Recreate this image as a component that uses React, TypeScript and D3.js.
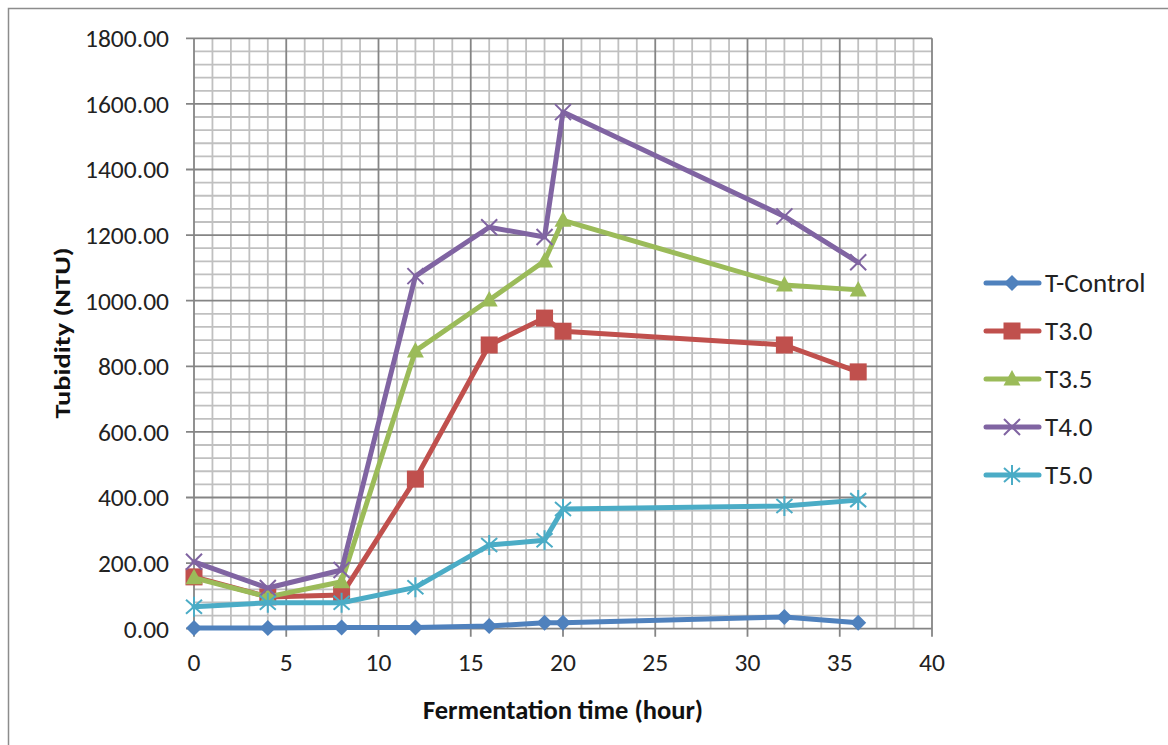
import { useEffect, useRef } from "react"
import * as d3 from "d3"

const hours = [0, 4, 8, 12, 16, 19, 20, 32, 36]
const seriesNames = ["T-Control", "T3.0", "T3.5", "T4.0", "T5.0"]
const tControl = [2, 2, 4, 4, 8, 18, 18, 36, 18]
const t30 = [158, 97, 103, 456, 865, 947, 907, 865, 783]
const t35 = [155, 97, 143, 847, 1002, 1121, 1245, 1048, 1033]
const t40 = [204, 124, 179, 1075, 1224, 1194, 1575, 1257, 1117]
const t50 = [67, 79, 79, 126, 255, 270, 365, 374, 392]
const colors = ["#4F81BD", "#C0504D", "#9BBB59", "#8064A2", "#4BACC6"]
const markers = ["diamond", "square", "triangle", "x", "star"]
const xTicks = [0, 5, 10, 15, 20, 25, 30, 35, 40]
const yTicks = [0, 200, 400, 600, 800, 1000, 1200, 1400, 1600, 1800]

const font = "Calibri, Carlito, Lato, 'Open Sans', sans-serif"

function drawMarker(g: d3.Selection<SVGGElement, unknown, null, undefined>, kind: string, x: number, y: number, color: string) {
  if (kind === "diamond") {
    g.append("path").attr("d", `M${x},${y - 8}L${x + 8},${y}L${x},${y + 8}L${x - 8},${y}Z`).attr("fill", color)
  } else if (kind === "square") {
    g.append("rect").attr("x", x - 8.5).attr("y", y - 8.5).attr("width", 17).attr("height", 17).attr("fill", color)
  } else if (kind === "triangle") {
    g.append("path").attr("d", `M${x},${y - 9}L${x + 8.5},${y + 6.5}L${x - 8.5},${y + 6.5}Z`).attr("fill", color)
  } else if (kind === "x") {
    g.append("path")
      .attr("d", `M${x - 8},${y - 8}L${x + 8},${y + 8}M${x - 8},${y + 8}L${x + 8},${y - 8}`)
      .attr("stroke", color).attr("stroke-width", 2)
  } else {
    g.append("path")
      .attr("d", `M${x - 8},${y - 7}L${x + 8},${y + 7}M${x - 8},${y + 7}L${x + 8},${y - 7}M${x},${y - 10}L${x},${y + 10}`)
      .attr("stroke", color).attr("stroke-width", 2)
  }
}

export default function App() {
  const svgRef = useRef<SVGSVGElement>(null)

  useEffect(() => {
    if (!svgRef.current) return
    const svg = d3.select(svgRef.current)
    svg.selectAll("*").remove()

    const x = d3.scaleLinear().domain([0, 40]).range([194, 932])
    const y = d3.scaleLinear().domain([0, 1800]).range([628.7, 38.3])

    // chart frame
    svg.append("rect").attr("x", 8.5).attr("y", 8.5).attr("width", 1170).attr("height", 760)
      .attr("fill", "white").attr("stroke", "#8c8c8c").attr("stroke-width", 1.5)

    const grid = svg.append("g")
    // minor grid
    for (let v = 1; v < 40; v++) {
      if (v % 5 === 0) continue
      grid.append("line").attr("x1", x(v)).attr("x2", x(v)).attr("y1", y(0)).attr("y2", y(1800))
        .attr("stroke", "#c0c0c0").attr("stroke-width", 1.8)
    }
    for (let v = 40; v < 1800; v += 40) {
      if (v % 200 === 0) continue
      grid.append("line").attr("x1", x(0)).attr("x2", x(40)).attr("y1", y(v)).attr("y2", y(v))
        .attr("stroke", "#c0c0c0").attr("stroke-width", 1.8)
    }
    // major grid
    xTicks.forEach((v) => {
      grid.append("line").attr("x1", x(v)).attr("x2", x(v)).attr("y1", y(0) + 8).attr("y2", y(1800))
        .attr("stroke", "#858585").attr("stroke-width", 1.8)
    })
    yTicks.forEach((v) => {
      grid.append("line").attr("x1", x(0) - 8).attr("x2", x(40)).attr("y1", y(v)).attr("y2", y(v))
        .attr("stroke", "#858585").attr("stroke-width", 1.8)
    })

    // tick labels
    svg.append("g").selectAll("text").data(yTicks).join("text")
      .attr("x", 169).attr("y", (d) => y(d)).attr("dy", "0.35em").attr("text-anchor", "end")
      .attr("font-family", font).attr("font-size", 25.5).attr("fill", "#222")
      .text((d) => d3.format(".2f")(d))
    svg.append("g").selectAll("text").data(xTicks).join("text")
      .attr("x", (d) => x(d)).attr("y", 662).attr("dy", "0.35em").attr("text-anchor", "middle")
      .attr("font-family", font).attr("font-size", 25.5).attr("fill", "#222")
      .text((d) => d)

    // axis titles
    svg.append("text").attr("transform", `translate(70,333) rotate(-90)`).attr("text-anchor", "middle")
      .attr("font-family", font).attr("font-size", 23).attr("font-weight", "bold").attr("fill", "#111")
      .attr("textLength", 171).attr("lengthAdjust", "spacingAndGlyphs")
      .text("Tubidity (NTU)")
    svg.append("text").attr("x", 563).attr("y", 719).attr("text-anchor", "middle")
      .attr("font-family", font).attr("font-size", 26.5).attr("font-weight", "bold").attr("fill", "#111")
      .text("Fermentation time (hour)")

    const series = [tControl, t30, t35, t40, t50]
    const line = d3.line<number>().x((_, i) => x(hours[i])).y((d) => y(d))
    series.forEach((vals, si) => {
      const g = svg.append("g")
      g.append("path").attr("d", line(vals)).attr("fill", "none").attr("stroke", colors[si])
        .attr("stroke-width", 5).attr("stroke-linejoin", "round").attr("stroke-linecap", "round")
      vals.forEach((v, i) => drawMarker(g, markers[si], x(hours[i]), y(v), colors[si]))
    })

    // legend
    const lg = svg.append("g")
    seriesNames.forEach((name, i) => {
      const ly = 283 + i * 48
      lg.append("line").attr("x1", 986).attr("x2", 1039).attr("y1", ly).attr("y2", ly)
        .attr("stroke", colors[i]).attr("stroke-width", 5).attr("stroke-linecap", "round")
      drawMarker(lg, markers[i], 1012, ly, colors[i])
      lg.append("text").attr("x", 1045).attr("y", ly).attr("dy", "0.35em")
        .attr("font-family", font).attr("font-size", 27).attr("fill", "#222").text(name)
    })
  }, [])

  return (
    <svg
      ref={svgRef}
      width={1168}
      height={745}
      style={{ position: "absolute", left: 0, top: 0, background: "white" }}
    />
  )
}
